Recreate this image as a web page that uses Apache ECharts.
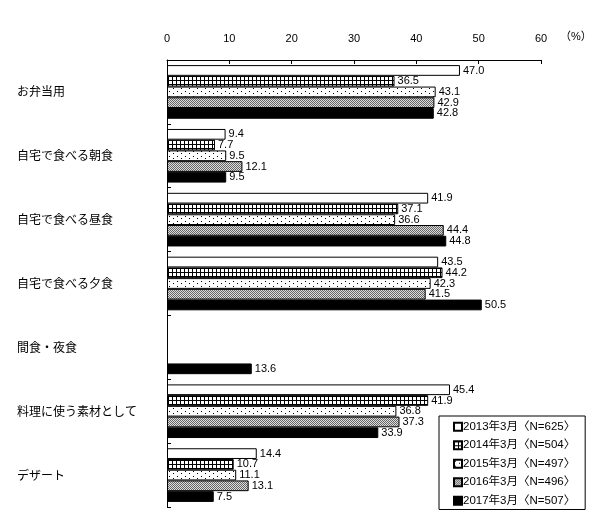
<!DOCTYPE html>
<html><head><meta charset="utf-8">
<script src="https://cdn.jsdelivr.net/npm/echarts@6/dist/echarts.min.js"></script>
<style>html,body{margin:0;padding:0;background:#fff}#c{width:597px;height:523px}</style>
</head><body><div id="c"></div>
<script>
const categories = ['お弁当用','自宅で食べる朝食','自宅で食べる昼食','自宅で食べる夕食','間食・夜食','料理に使う素材として','デザート'];
const seriesNames = ['2013年3月〈N=625〉','2014年3月〈N=504〉','2015年3月〈N=497〉','2016年3月〈N=496〉','2017年3月〈N=507〉'];
const v2013 = [47.0, 9.4, 41.9, 43.5, null, 45.4, 14.4];
const v2014 = [36.5, 7.7, 37.1, 44.2, null, 41.9, 10.7];
const v2015 = [43.1, 9.5, 36.6, 42.3, null, 36.8, 11.1];
const v2016 = [42.9, 12.1, 44.4, 41.5, null, 37.3, 13.1];
const v2017 = [42.8, 9.5, 44.8, 50.5, 13.6, 33.9, 7.5];
const xTicks = [0, 10, 20, 30, 40, 50, 60];

function pat(w, h, draw) {
  const c = document.createElement('canvas'); c.width = w; c.height = h;
  const g = c.getContext('2d'); g.fillStyle = '#fff'; g.fillRect(0, 0, w, h);
  g.fillStyle = '#000'; draw(g); return {image: c, repeat: 'repeat'};
}
const fills = [
  '#ffffff',
  pat(4, 4, g => { g.fillRect(0, 0, 4, 1); g.fillRect(0, 0, 1, 4); }),
  pat(8, 5, g => { g.fillRect(1, 1, 1, 1); g.fillRect(5, 3, 1, 1); }),
  pat(2, 2, g => { g.fillStyle = '#666'; g.fillRect(0, 0, 1, 1); g.fillRect(1, 1, 1, 1); g.fillStyle = '#ddd'; g.fillRect(1, 0, 1, 1); g.fillRect(0, 1, 1, 1); }),
  '#000000'
];
const valuesList = [v2013, v2014, v2015, v2016, v2017];
const font = '"Liberation Sans", "Noto Sans CJK JP", sans-serif';

const chart = echarts.init(document.getElementById('c'), null, {renderer: 'canvas'});
chart.setOption({
  animation: false,
  textStyle: {fontFamily: font},
  grid: {left: 167, right: 56, top: 60, bottom: 16},
  xAxis: {
    type: 'value', position: 'top', min: 0, max: 60, interval: 10,
    axisLine: {show: true, lineStyle: {color: '#000', width: 1}},
    axisTick: {show: true, inside: true, length: 4, lineStyle: {color: '#000'}},
    splitLine: {show: false},
    axisLabel: {color: '#000', fontSize: 11, margin: 16, fontFamily: font,
      formatter: v => xTicks.includes(v) ? String(v) : ''}
  },
  yAxis: {
    type: 'category', data: categories, inverse: true,
    axisLine: {show: true, lineStyle: {color: '#000', width: 1}},
    axisTick: {show: true, inside: true, length: 4, lineStyle: {color: '#000'}},
    axisLabel: {color: '#000', fontSize: 12, align: 'left', margin: 150, fontFamily: '"Noto Sans CJK JP", sans-serif'}
  },
  legend: {
    orient: 'vertical', left: 439, top: 416,
    backgroundColor: '#fff', borderColor: '#000', borderWidth: 1,
    padding: [5, 10, 3, 14],
    itemWidth: 8, itemHeight: 8, itemGap: 7, icon: 'rect',
    textStyle: {color: '#000', fontSize: 11.5, fontFamily: font, padding: [0, 0, 0, -4]},
    data: seriesNames
  },
  graphic: [{type: 'text', left: 560, top: 31, style: {text: '（%）', fill: '#000', font: '11px ' + font}}],
  series: valuesList.map((vals, i) => ({
    name: seriesNames[i], type: 'bar', data: vals,
    barGap: '0%', barCategoryGap: '16%',
    itemStyle: {color: fills[i], borderColor: '#000', borderWidth: 1},
    label: {show: true, position: 'right', distance: 3, color: '#000', fontSize: 11, fontFamily: font,
      formatter: p => p.value == null ? '' : p.value.toFixed(1)}
  }))
});
</script></body></html>
